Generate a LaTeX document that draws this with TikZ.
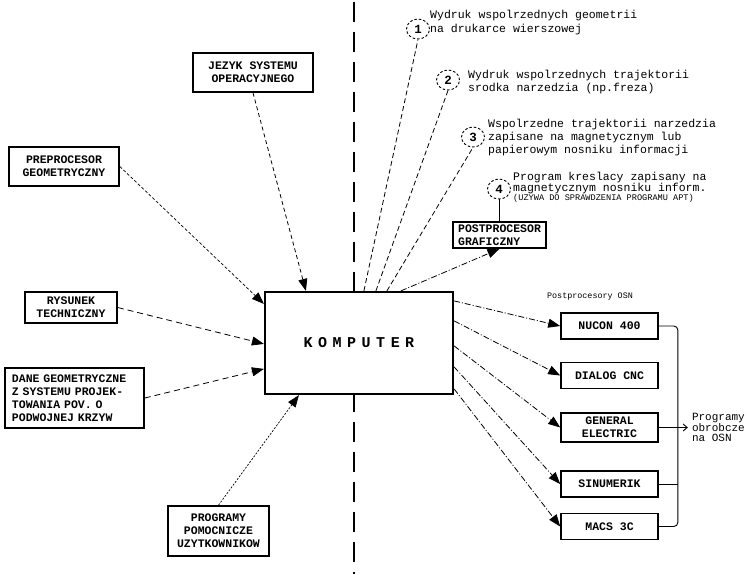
\documentclass[tikz,border=0pt]{standalone}
\usepackage{fontspec}
\setmainfont{Liberation Sans}
\newfontfamily\pix{Liberation Mono}
\usetikzlibrary{arrows.meta,calc,shapes.geometric}

\begin{document}
\begin{tikzpicture}[x=1pt,y=-1pt,
  box/.style={draw,line width=1.6pt,fill=white,inner sep=0pt,
    font=\pix\bfseries\fontsize{11.5}{13}\selectfont,align=center},
  outbox/.style={box,minimum width=97pt,minimum height=26pt},
  note/.style={anchor=north west,inner sep=0pt,
    font=\pix\fontsize{11.5}{13}\selectfont,align=left},
  num/.style={ellipse,draw,dash pattern=on 2.5pt off 2pt,line width=0.9pt,
    minimum width=23pt,minimum height=20pt,inner sep=0pt,
    font=\pix\bfseries\fontsize{12.5}{12}\selectfont},
  head/.style={-{Triangle[length=12pt,width=9pt]}},
  feed/.style={head,line width=0.8pt},
  ray/.style={line width=0.8pt,dash pattern=on 5pt off 3pt},
  dashdot/.style={head,line width=0.8pt,dash pattern=on 6pt off 2pt on 1pt off 2pt},
  bus/.style={line width=0.9pt,rounded corners=4pt}
]
\useasboundingbox (0,0) rectangle (751,574);

% divider between input and output side
\draw[line width=1.3pt,dash pattern=on 20pt off 10pt] (354,2) -- (354,574);

% central computer
\node[box,line width=2.2pt,minimum width=188pt,minimum height=102pt,
  font=\pix\bfseries\fontsize{15}{15}\selectfont] (komp) at (359,343)
  {K\hspace{5.5pt}O\hspace{5.5pt}M\hspace{5.5pt}P\hspace{5.5pt}U\hspace{5.5pt}T\hspace{5.5pt}E\hspace{5.5pt}R};

% inputs
\node[box,minimum width=120pt,minimum height=39pt] (jezyk) at (253,72.5)
  {JEZYK SYSTEMU\\OPERACYJNEGO};
\node[box,minimum width=110pt,minimum height=39pt] (prep) at (64,166.5)
  {PREPROCESOR\\GEOMETRYCZNY};
\node[box,minimum width=92pt,minimum height=31pt] (rys) at (71,307.5)
  {RYSUNEK\\TECHNICZNY};
\node[box,minimum height=60pt,text width=125pt,inner xsep=7pt,align=left]
  (dane) at (74.5,398)
  {DANE GEOMETRYCZNE\\Z SYSTEMU PROJEK-\\TOWANIA POV. O\\PODWOJNEJ KRZYW};
\node[box,minimum width=101pt,minimum height=50pt] (pom) at (218.5,531)
  {PROGRAMY\\POMOCNICZE\\UZYTKOWNIKOW};

\draw[feed,dash pattern=on 4pt off 3pt] (jezyk.south) -- ($(komp.north west)+(42,0)$);
\draw[feed,line width=0.7pt,dash pattern=on 3pt off 2pt] (prep.east) -- ($(komp.north west)+(0,13)$);
\draw[feed,dash pattern=on 6pt off 4pt] (rys.east) -- ($(komp.north west)+(0,53)$);
\draw[feed,dash pattern=on 6pt off 4pt] (dane.east) -- ($(komp.north west)+(0,78)$);
\draw[feed,line width=0.7pt,dash pattern=on 2pt off 1.5pt] (pom.north) -- ($(komp.south west)+(35,0)$);

% numbered outputs on the upper side
\node[num] (c1) at (418,29) {1};
\node[num] (c2) at (448,80) {2};
\node[num] (c3) at (473,137) {3};
\node[num] (c4) at (499,189) {4};

\node[note] (n1) at (430,10) {Wydruk wspolrzednych geometrii\\[1pt]na drukarce wierszowej};
\node[note] (n2) at (468,70) {Wydruk wspolrzednych trajektorii\\srodka narzedzia (np.freza)};
\node[note] (n3) at (488,119) {Wspolrzedne trajektorii narzedzia\\zapisane na magnetycznym lub\\papierowym nosniku informacji};
\node[note,font=\pix\fontsize{11.5}{11}\selectfont] (n4) at (513,172)
  {Program kreslacy zapisany na\\magnetycznym nosniku inform.\\[-2pt]
   {\fontsize{8.6}{9}\selectfont (UZYWA DO SPRAWDZENIA PROGRAMU APT)}};

\node[box,minimum width=93pt,minimum height=26pt,align=left] (graf) at (499.5,235)
  {POSTPROCESOR\\GRAFICZNY};

\draw[ray] ($(komp.north west)+(100,0)$) -- (c1.south);
\draw[ray] ($(komp.north west)+(112,0)$) -- (c2.south);
\draw[ray] ($(komp.north west)+(123,0)$) -- (c3.south);
\draw[line width=0.9pt] (c4.south) -- (c4.south |- graf.north);
\draw[dashdot] ($(komp.north west)+(137,0)$) -- (graf.south);

% machine-tool postprocessors
\node[font=\pix\fontsize{8.4}{9}\selectfont] (osn) at (590,297) {Postprocesory OSN};
\node[outbox] (nucon) at (609.5,326) {NUCON 400};
\node[outbox] (dialog) at (609.5,375.5) {DIALOG CNC};
\node[outbox,minimum height=29pt] (gen) at (609.5,427.5) {GENERAL\\ELECTRIC};
\node[outbox] (sinu) at (609.5,484) {SINUMERIK};
\node[outbox] (macs) at (609.5,526.5) {MACS 3C};

\draw[dashdot] ($(komp.north east)+(0,10)$) -- (nucon.west);
\draw[dashdot] ($(komp.north east)+(0,30)$) -- (dialog.west);
\draw[dashdot] ($(komp.north east)+(0,55)$) -- (gen.west);
\draw[dashdot] ($(komp.north east)+(0,76)$) -- (sinu.west);
\draw[dashdot] ($(komp.north east)+(0,98)$) -- (macs.west);

% grouping of the machine programs
\draw[bus] (nucon.east) -- ++(19,0) |- (macs.east);
\draw[bus] (sinu.east) -- ++(19,0);
\draw[line width=0.9pt,-{Straight Barb[length=4pt,width=7pt]}] (gen.east) -- ++(29,0) coordinate (pt);
\node[anchor=west,inner sep=0pt,xshift=4pt,align=left,font=\pix\fontsize{11}{10}\selectfont] (prog) at (pt)
  {Programy\\obrobcze\\na OSN};
\end{tikzpicture}
\end{document}
